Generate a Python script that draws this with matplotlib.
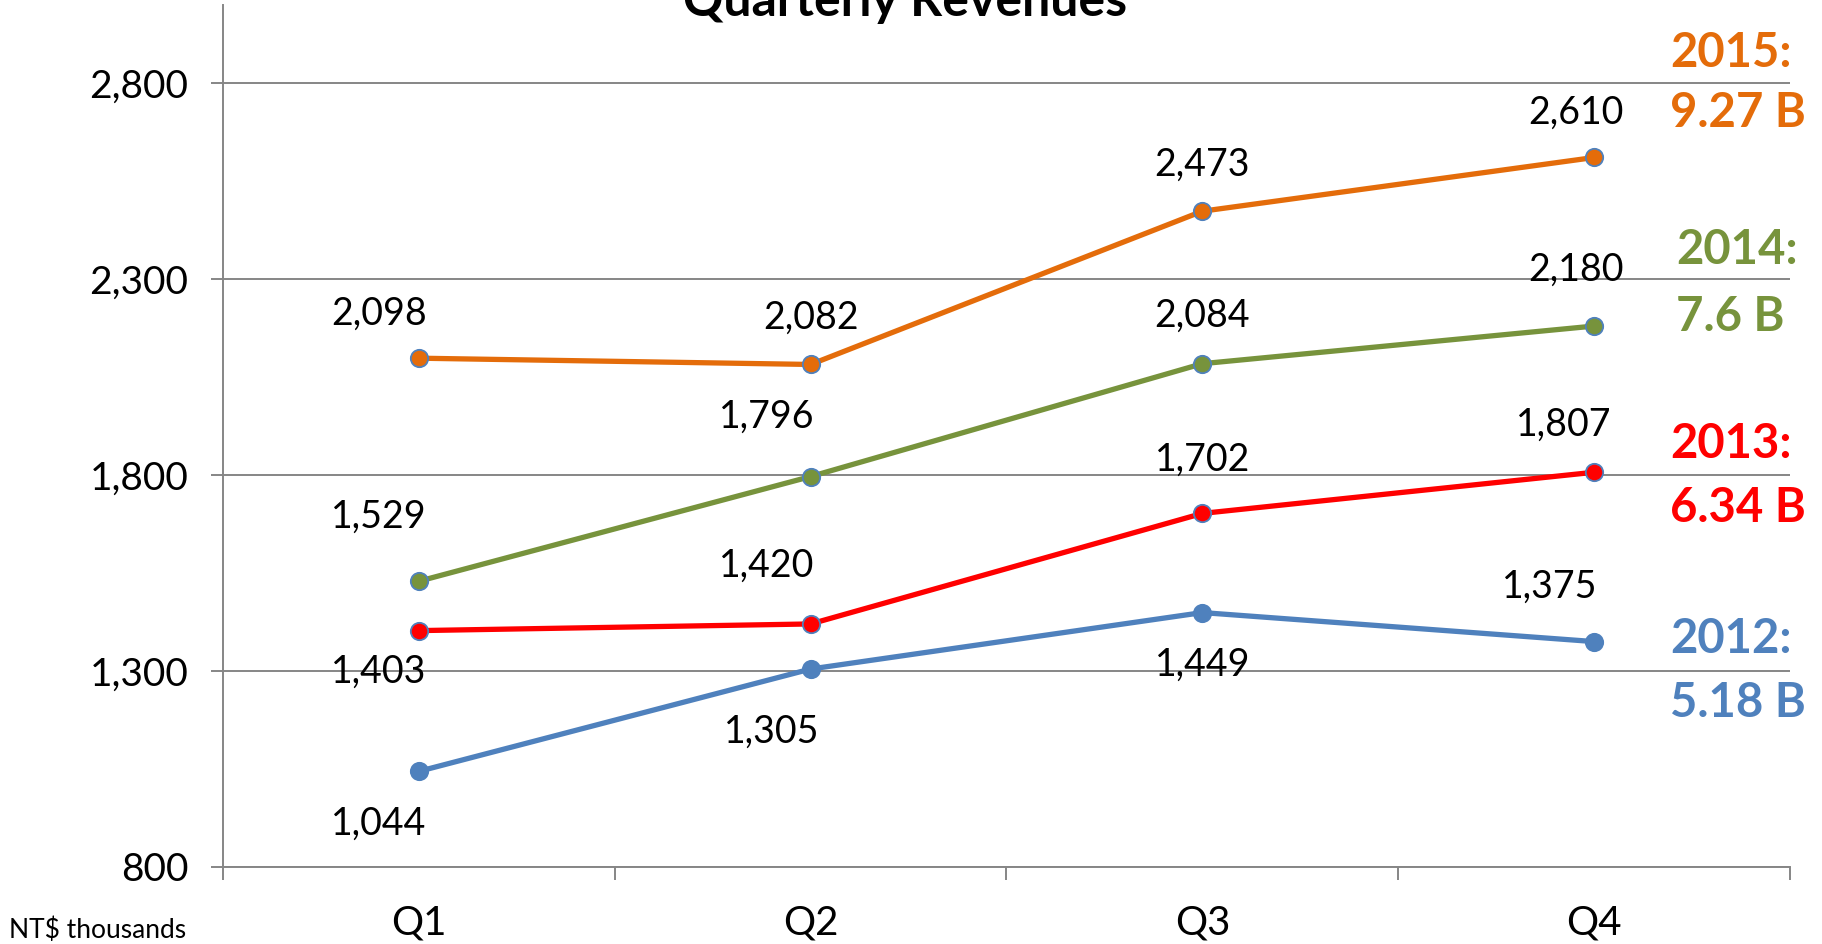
import matplotlib
matplotlib.use("Agg")
import matplotlib.pyplot as plt

plt.rcParams['font.family'] = ['Lato', 'DejaVu Sans']

# datos
quarters = ["Q1", "Q2", "Q3", "Q4"]
years = ["2015", "2014", "2013", "2012"]
rev_2015 = [2098, 2082, 2473, 2610]
rev_2014 = [1529, 1796, 2084, 2180]
rev_2013 = [1403, 1420, 1702, 1807]
rev_2012 = [1044, 1305, 1449, 1375]
totals = ["9.27 B", "7.6 B", "6.34 B", "5.18 B"]
yticks = [800, 1300, 1800, 2300, 2800]

series = [rev_2015, rev_2014, rev_2013, rev_2012]
colors = ["#E46C0A", "#77933C", "#FF0000", "#4F81BD"]

# desplazamiento de etiquetas (pixeles)
offsets = [
    [(-40, 44), (0, 47), (0, 46), (-18, 45)],
    [(-40, 64), (-44, 60), (0, 48), (-18, 56)],
    [(-40, -41), (-44, 58), (0, 54), (-30, 48)],
    [(-40, -52), (-39, -63), (0, -52), (-44, 55)],
]
# posiciones de totales a la derecha (fraccion de figura)
total_pos = [(0.9166, 0.944, 0.880), (0.9199, 0.735, 0.664),
             (0.9166, 0.530, 0.462), (0.9166, 0.323, 0.255)]

fig = plt.figure(figsize=(18.22, 9.44), dpi=100)
ax = fig.add_axes([0.1224, 0.0816, 0.86, 0.9135])

x = list(range(len(quarters)))
grid_c = "#868686"
for vals, col, offs in zip(series, colors, offsets):
    ax.plot(x, vals, color=col, lw=3.8, marker="o", markersize=12.5,
            markerfacecolor=col, markeredgecolor="#4F81BD", markeredgewidth=1.3,
            zorder=3)
    for xi, v, (dx, dy) in zip(x, vals, offs):
        ax.annotate(f"{v:,}", (xi, v), xytext=(dx, dy), textcoords="offset pixels",
                    ha="center", va="center", fontsize=27, color="black")

ax.set_xlim(-0.5, 3.5)
ax.set_ylim(800, 3000)
ax.set_yticks(yticks)
ax.set_yticklabels([f"{t:,}" for t in yticks], fontsize=28)
ax.set_xticks(x)
ax.set_xticklabels(quarters, fontsize=29)
ax.set_xticks([-0.5, 0.5, 1.5, 2.5, 3.5], minor=True)
ax.tick_params(axis="x", which="major", length=0, pad=27)
ax.tick_params(axis="x", which="minor", length=9, width=1.4, color=grid_c, direction="out")
ax.tick_params(axis="y", length=9, width=1.4, color=grid_c, pad=16)
ax.yaxis.grid(True, color=grid_c, lw=1.4)
ax.set_axisbelow(True)
for s in ["top", "right"]:
    ax.spines[s].set_visible(False)
for s in ["left", "bottom"]:
    ax.spines[s].set_color(grid_c)
    ax.spines[s].set_linewidth(1.4)

fig.text(0.497, 0.983, "Quarterly Revenues", ha="center", va="baseline",
         fontsize=36, fontweight="bold")
fig.text(0.005, 0.015, "NT$ thousands", ha="left", va="center", fontsize=19)

for yr, tot, col, (px, y1, y2) in zip(years, totals, colors, total_pos):
    fig.text(px, y1, yr + ":", ha="left", va="center", fontsize=34,
             fontweight="bold", color=col)
    fig.text(px, y2, tot, ha="left", va="center", fontsize=34,
             fontweight="bold", color=col)

fig.savefig("out.png", dpi=100)
